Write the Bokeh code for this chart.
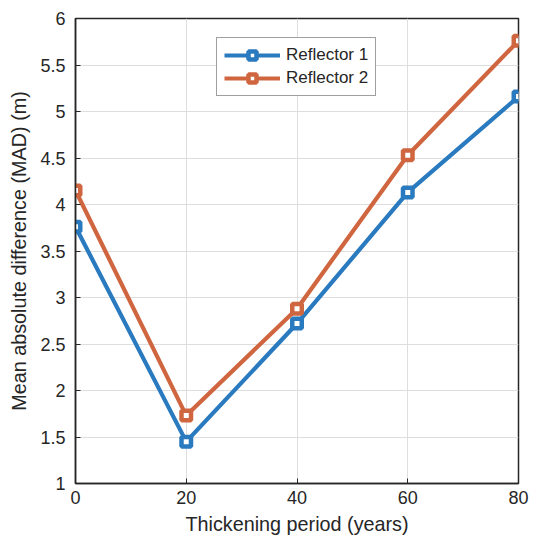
from bokeh.plotting import figure
from bokeh.models import FixedTicker, Range1d, Legend, LegendItem
from bokeh.embed import file_html
from bokeh.resources import INLINE

periods = [0, 20, 40, 60, 80]
reflector1 = [3.76, 1.45, 2.72, 4.13, 5.16]
reflector2 = [4.15, 1.73, 2.88, 4.53, 5.76]
x_ticks = [0, 20, 40, 60, 80]
y_ticks = [1, 1.5, 2, 2.5, 3, 3.5, 4, 4.5, 5, 5.5, 6]
y_tick_labels = {1: "1", 1.5: "1.5", 2: "2", 2.5: "2.5", 3: "3", 3.5: "3.5",
                 4: "4", 4.5: "4.5", 5: "5", 5.5: "5.5", 6: "6"}

c1 = "#2A7ABF"
c2 = "#D0663F"
FONT = "Liberation Sans"
AX = "#262626"

p = figure(width=536, height=542, output_backend="svg", toolbar_location=None,
           x_range=Range1d(0, 80), y_range=Range1d(1, 6),
           min_border_left=75, min_border_right=18, min_border_top=18, min_border_bottom=59)
p.outline_line_color = AX
p.outline_line_width = 1.5
p.background_fill_color = "white"
p.border_fill_color = "white"

p.xgrid.ticker = FixedTicker(ticks=x_ticks)
p.ygrid.ticker = FixedTicker(ticks=y_ticks)
p.grid.grid_line_color = "#DEDEDE"
p.grid.grid_line_width = 1

for ax in p.xaxis + p.yaxis:
    ax.axis_line_color = AX
    ax.axis_line_width = 1.5
    ax.major_tick_in = 5
    ax.major_tick_out = 0
    ax.major_tick_line_color = AX
    ax.minor_tick_line_color = None
    ax.major_label_text_font = FONT
    ax.major_label_text_font_size = "18px"
    ax.major_label_text_color = "#262626"
    ax.axis_label_text_font = FONT
    ax.axis_label_text_font_size = "19.8px"
    ax.axis_label_text_font_style = "normal"
    ax.axis_label_text_color = "#262626"

p.xaxis.ticker = FixedTicker(ticks=x_ticks)
p.yaxis.ticker = FixedTicker(ticks=y_ticks)
p.yaxis.major_label_overrides = y_tick_labels
p.xaxis.axis_label = "Thickening period (years)"
p.yaxis.axis_label = "Mean absolute difference (MAD) (m)"
p.xaxis.major_label_standoff = 7
p.yaxis.major_label_standoff = 10
p.xaxis.axis_label_standoff = 6
p.yaxis.axis_label_standoff = 7

l1 = p.line(periods, reflector1, line_color=c1, line_width=4.2)
s1 = p.scatter(periods, reflector1, marker="square", size=9.5, line_color=c1,
               line_width=4.5, fill_color="white")
l2 = p.line(periods, reflector2, line_color=c2, line_width=4.2)
s2 = p.scatter(periods, reflector2, marker="square", size=9.5, line_color=c2,
               line_width=4.5, fill_color="white")

legend = Legend(items=[LegendItem(label="Reflector 1", renderers=[l1, s1]),
                       LegendItem(label="Reflector 2", renderers=[l2, s2])],
                location=(141, 387))
legend.label_text_font = FONT
legend.label_text_font_size = "17px"
legend.label_text_color = "#262626"
legend.border_line_color = "#404040"
legend.border_line_width = 1.5
legend.background_fill_color = "white"
legend.background_fill_alpha = 1
legend.glyph_width = 56
legend.glyph_height = 20
legend.label_height = 20
legend.spacing = 3
legend.padding = 7
legend.margin = 0
legend.label_standoff = 6
p.add_layout(legend, "center")

open("out.html", "w").write(file_html(p, INLINE))
